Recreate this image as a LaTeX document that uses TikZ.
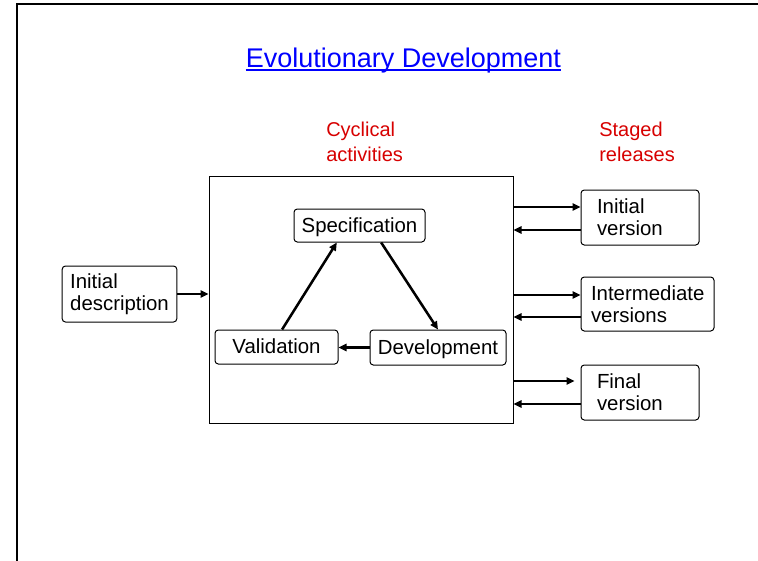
\documentclass[tikz,border=0pt]{standalone}
\usepackage{fontspec}
\setmainfont{Liberation Sans}
\usetikzlibrary{arrows.meta,calc}
\definecolor{titleblue}{RGB}{0,0,255}
\definecolor{lblred}{RGB}{215,0,0}
\begin{document}
\begin{tikzpicture}[x=0.75pt,y=-0.75pt,
  boxnode/.style={draw, line width=0.75pt, rounded corners=2.5pt, inner ysep=0pt,
    font=\fontsize{15.3}{16.5}\selectfont},
  onebox/.style={boxnode, text height=11pt, text depth=1pt},
  lbl/.style={text=lblred, inner sep=0pt, align=left, font=\fontsize{15}{18.75}\selectfont},
  arr/.style={line width=1.9pt, -{Triangle[length=6pt,width=5.5pt]}}]
\useasboundingbox (0,0) rectangle (758,561);
% frame
\draw[line width=1.5pt] (17,562) -- (17,4) -- (759,4);
% title
\node[inner sep=0pt, anchor=base, text=titleblue, font=\fontsize{20.25}{24}\selectfont] (title) at (403.5,67.3) {Evolutionary Development};
\draw[titleblue, line width=1.2pt] ($(title.base west)+(0,2.8)$) -- ($(title.base east)+(0,2.8)$);
% labels
\node[lbl, anchor=base west] (lcyc) at (326,161) {Cyclical\\activities};
\node[lbl, anchor=base west] (lsta) at (599,161) {Staged\\releases};
% main box
\node[draw, line width=0.75pt, minimum width=228pt, minimum height=185.25pt, inner sep=0pt] (main) at (361,299.5) {};
% inner nodes
\node[onebox, minimum width=98.25pt, minimum height=24.75pt] (spec) at (359.5,225.5) {Specification};
\node[onebox, minimum width=102pt, minimum height=26.25pt] (dev) at (438,347.5) {Development};
\node[onebox, minimum width=92.25pt, minimum height=25.5pt] (val) at (276.5,347) {Validation};
% outer nodes
\node[boxnode, minimum width=84.75pt, minimum height=42pt, align=left, inner xsep=6pt] (init) at (119.5,294) {Initial\\description};
\node[boxnode, minimum height=41.25pt, text width=64.5pt, inner xsep=12pt, align=left] (v1) at (640,217.5) {Initial\\version};
\node[boxnode, minimum height=40.5pt, text width=84.75pt, inner xsep=7.5pt, align=left] (v2) at (647.5,304) {Intermediate\\versions};
\node[boxnode, minimum height=41.25pt, text width=64.5pt, inner xsep=12pt, align=left] (v3) at (640,392.5) {Final\\version};
% cycle arrows
\draw[arr] ($(spec.south west)!0.664!(spec.south east)$) -- (dev.north);
\draw[arr] (dev.west) -- (val.east |- dev.west);
\draw[arr] ($(val.north west)!0.545!(val.north east)$) -- ($(spec.south west)!0.328!(spec.south east)$);
% input arrow
\draw[arr] (init.east) -- (main.west |- init.east);
% release arrows
\path ($(v1.west)+(0,-10.5)$) coordinate (r1) ($(v1.west)+(0,12.5)$) coordinate (b1);
\path ($(v2.west)+(0,-9)$) coordinate (r2) ($(v2.west)+(0,13)$) coordinate (b2);
\path ($(v3.west)+(0,-11.5)$) coordinate (r3) ($(v3.west)+(0,11.5)$) coordinate (b3);
\draw[arr] (main.east |- r1) -- (r1);
\draw[arr] (b1) -- (main.east |- b1);
\draw[arr] (main.east |- r2) -- (r2);
\draw[arr] (b2) -- (main.east |- b2);
\draw[arr, shorten >=4.5pt] (main.east |- r3) -- (r3);
\draw[arr] (b3) -- (main.east |- b3);
\end{tikzpicture}
\end{document}
